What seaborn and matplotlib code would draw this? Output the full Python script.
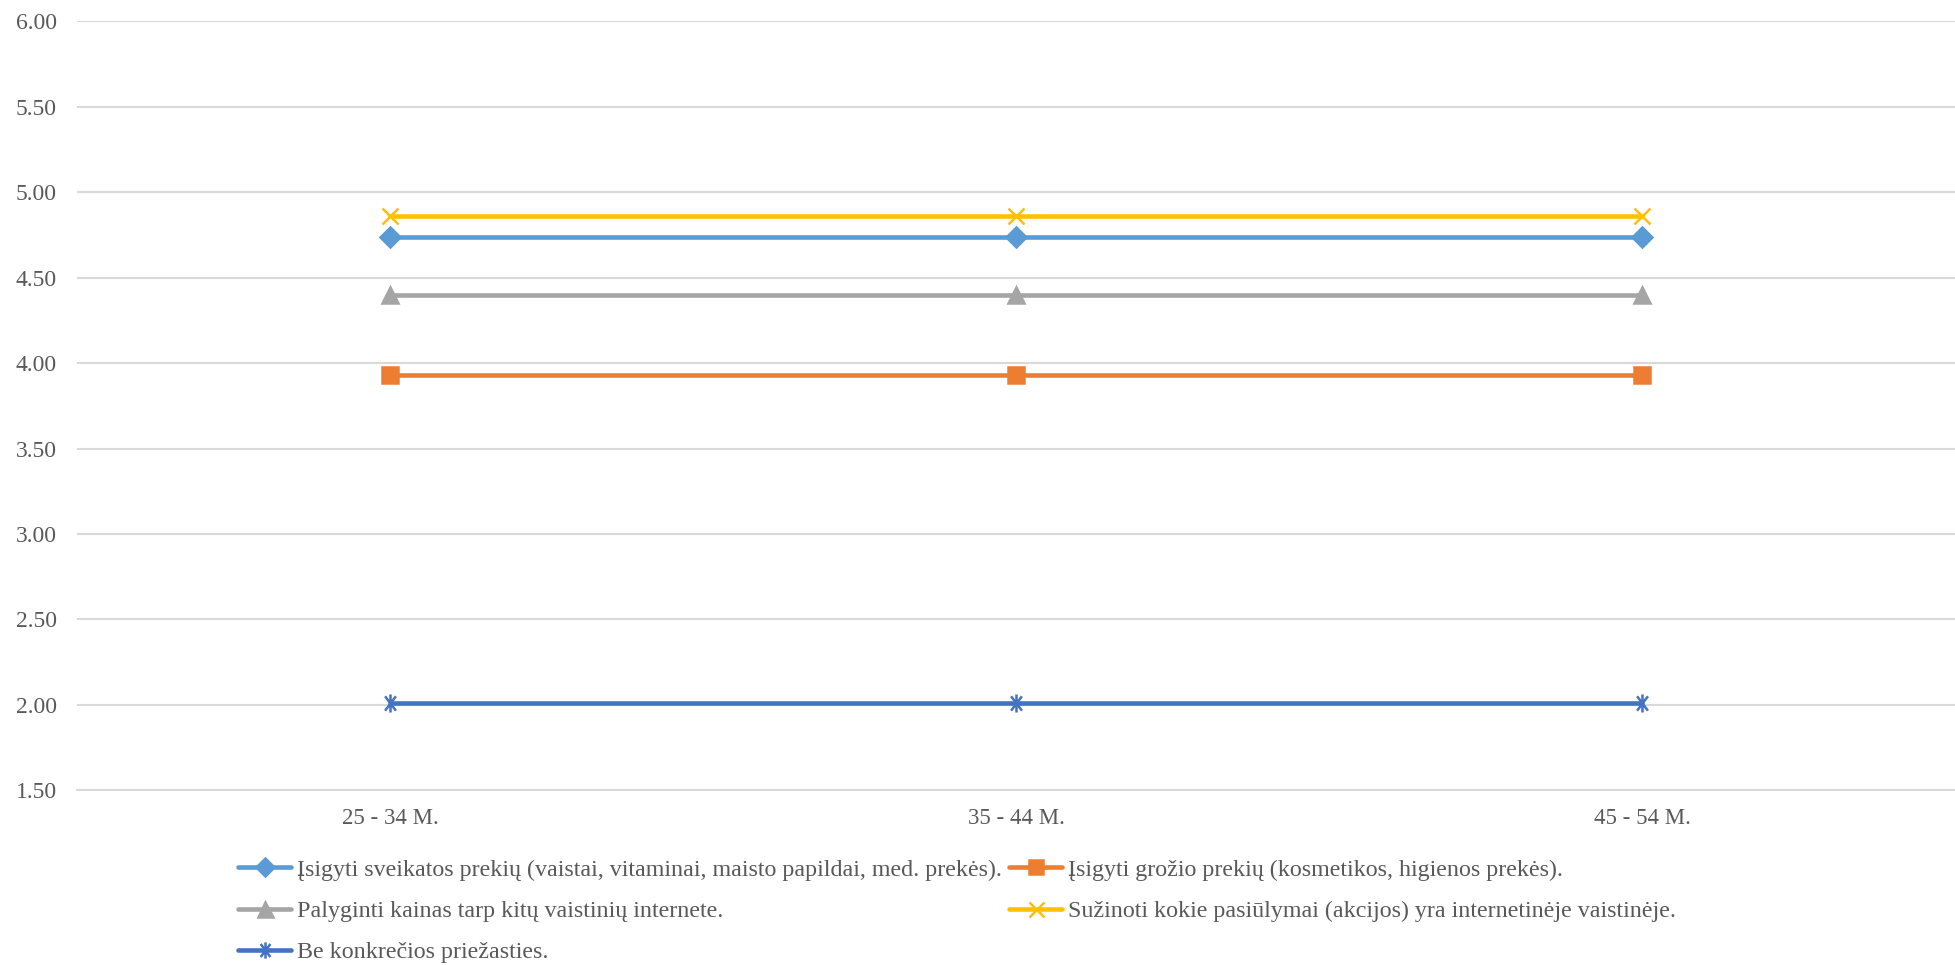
import matplotlib
matplotlib.use("Agg")
import matplotlib.pyplot as plt
from matplotlib.path import Path
import seaborn as sns
import pandas as pd
import numpy as np

categories = ["25 - 34 M.", "35 - 44 M.", "45 - 54 M."]
series_names = [
    "Įsigyti sveikatos prekių (vaistai, vitaminai, maisto papildai, med. prekės).",
    "Įsigyti grožio prekių (kosmetikos, higienos prekės).",
    "Palyginti kainas tarp kitų vaistinių internete.",
    "Sužinoti kokie pasiūlymai (akcijos) yra internetinėje vaistinėje.",
    "Be konkrečios priežasties.",
]
s1 = [4.74, 4.74, 4.74]
s2 = [3.93, 3.93, 3.93]
s3 = [4.40, 4.40, 4.40]
s4 = [4.86, 4.86, 4.86]
s5 = [2.01, 2.01, 2.01]
yticks = [1.5, 2.0, 2.5, 3.0, 3.5, 4.0, 4.5, 5.0, 5.5, 6.0]

colors = ["#5B9BD5", "#ED7D31", "#A5A5A5", "#FFC000", "#4472C4"]

ast = Path(
    [(0, -1), (0, 1), (-0.6, -0.8), (0.6, 0.8), (-0.6, 0.8), (0.6, -0.8)],
    [Path.MOVETO, Path.LINETO, Path.MOVETO, Path.LINETO, Path.MOVETO, Path.LINETO],
)
markers = ["D", "s", "^", "x", ast]
msizes = [10, 11, 12, 12, 13]

rows = []
for name, vals in zip(series_names, [s1, s2, s3, s4, s5]):
    for i, v in enumerate(vals):
        rows.append({"series": name, "x": i, "value": v})
df = pd.DataFrame(rows)

sns.set_theme(style="white")
plt.rcParams["font.family"] = ["Liberation Serif", "DejaVu Serif"]

fig = plt.figure(figsize=(19.55, 9.65), dpi=100)
ax = fig.add_axes([0.0394, 0.181, 0.9606, 0.797])

sns.lineplot(
    data=df, x="x", y="value", hue="series",
    hue_order=series_names, palette=colors,
    linewidth=3.3, ax=ax, legend=False,
)
for line, m, ms, c in zip(ax.lines, markers, msizes, colors):
    line.set_marker(m)
    line.set_markersize(ms)
    line.set_markeredgecolor(c)
    line.set_markerfacecolor(c)
    line.set_markeredgewidth(1.8)

ax.set_xlim(-0.5, 2.5)
ax.set_ylim(1.5, 6.0)
ax.set_yticks(yticks)
ax.set_yticklabels([f"{t:.2f}" for t in yticks])
ax.set_xticks(range(len(categories)))
ax.set_xticklabels(categories)
ax.grid(axis="y", color="#D9D9D9", linewidth=1.5)
ax.set_axisbelow(True)
for sp in ["top", "right", "left"]:
    ax.spines[sp].set_visible(False)
ax.spines["bottom"].set_color("#D9D9D9")
ax.spines["bottom"].set_linewidth(1.5)
ax.tick_params(axis="both", length=0, colors="#595959")
ax.tick_params(axis="y", pad=14.5, labelsize=17)
ax.tick_params(axis="x", pad=13, labelsize=16.5)
ax.set_xlabel("")
ax.set_ylabel("")

handles = []
for name, c, m, ms in zip(series_names, colors, markers, msizes):
    h, = ax.plot([], [], color=c, marker=m, markersize=ms * 0.9, linewidth=3.3,
                 markeredgecolor=c, markerfacecolor=c, markeredgewidth=1.8,
                 label=name)
    handles.append(h)
order = [0, 2, 4, 1, 3]
leg = fig.legend(
    handles=[handles[i] for i in order], loc="upper left",
    bbox_to_anchor=(0.117, 0.120),
    ncol=2, frameon=False, fontsize=17.3, handlelength=2.2, handletextpad=0.25,
    columnspacing=0.3, labelspacing=0.81, borderaxespad=0,
)
for t in leg.get_texts():
    t.set_color("#595959")

fig.savefig("out.png", dpi=100, facecolor="white")
